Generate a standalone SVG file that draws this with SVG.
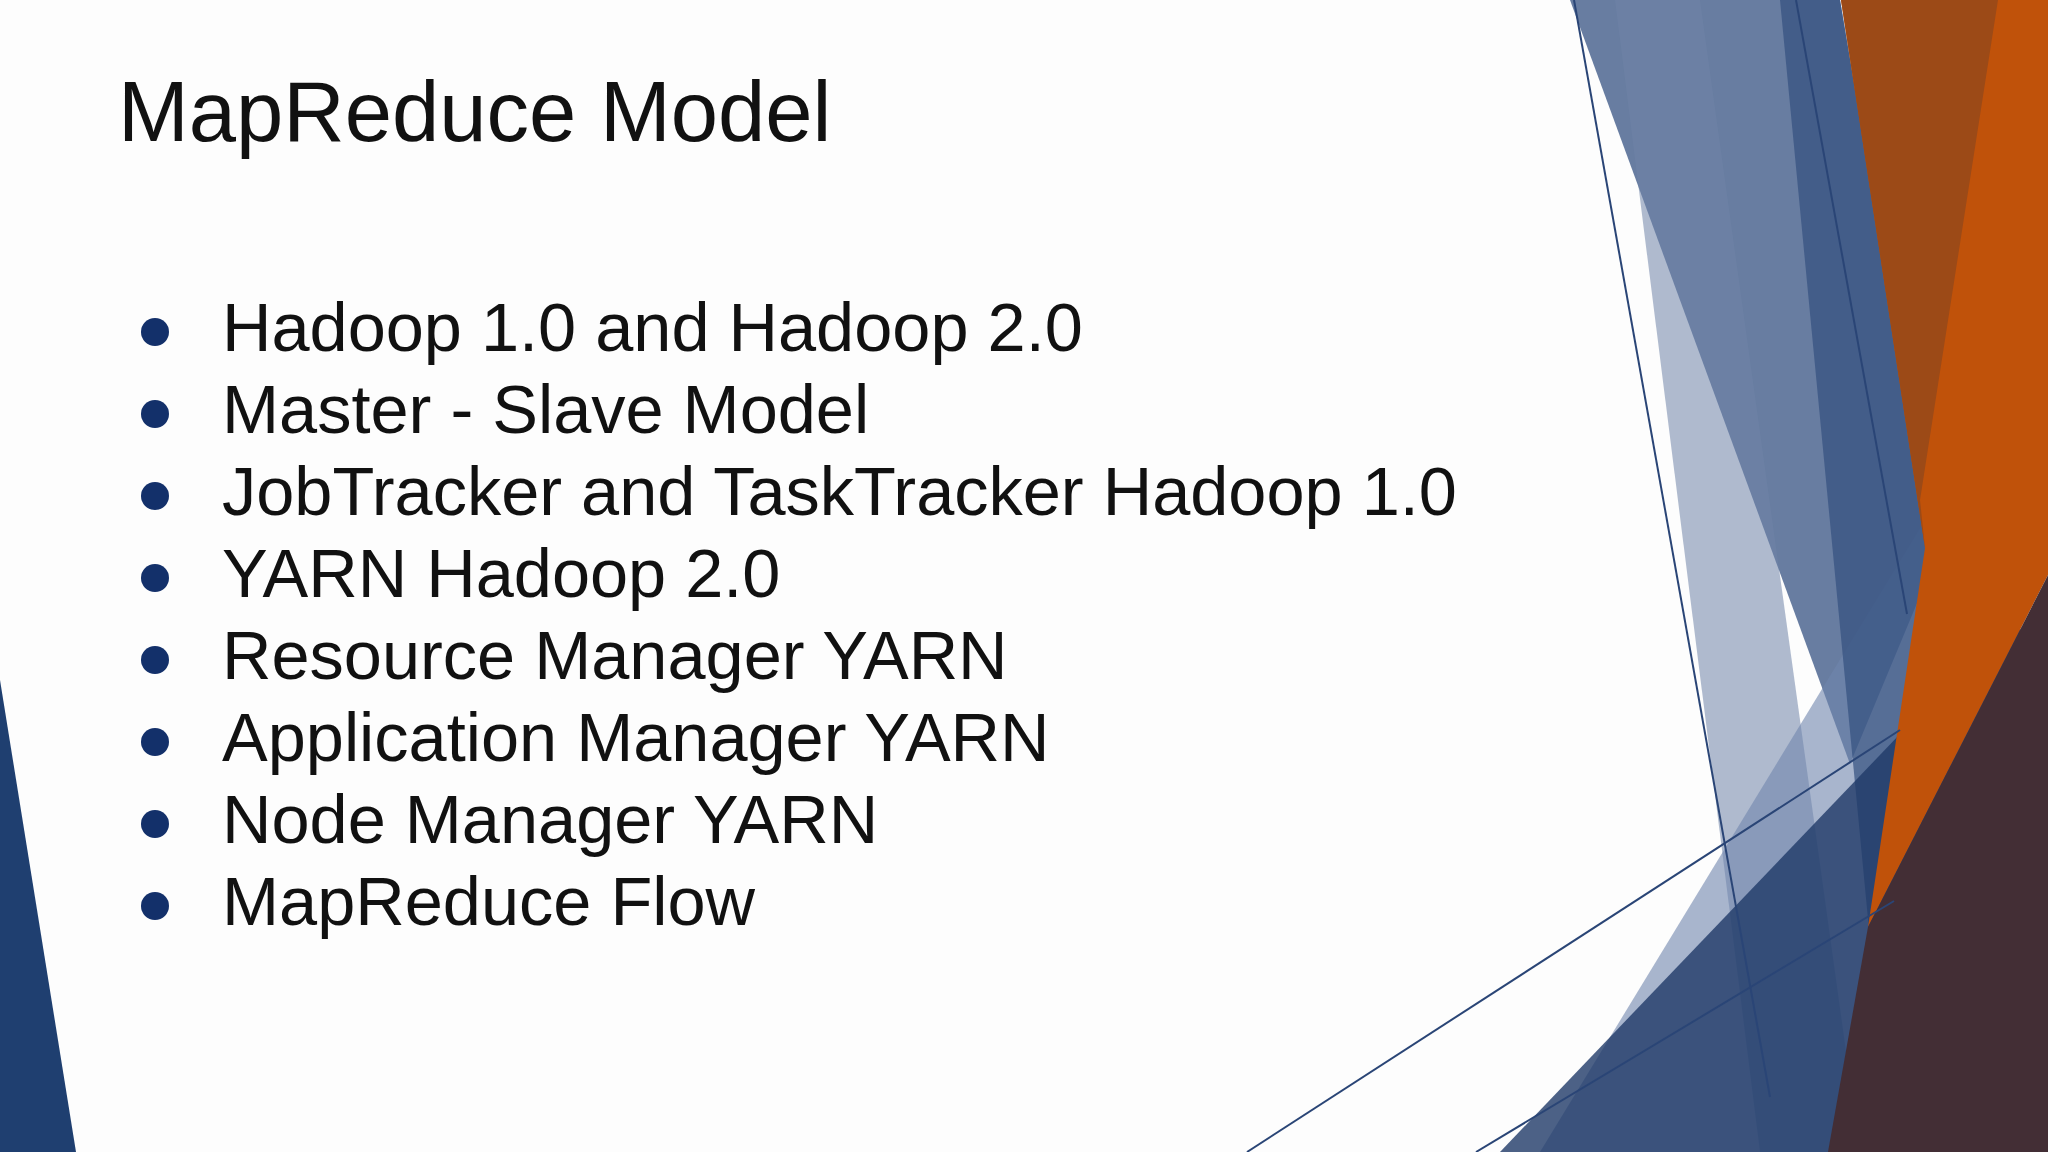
<svg xmlns="http://www.w3.org/2000/svg" width="2048" height="1152" viewBox="0 0 2048 1152">
<style>
.t{font-family:"Liberation Sans",Arial,sans-serif;fill:#111;}
.b{font-size:68.5px;}
.d{fill:#13306a;}
.ln{stroke:#2a4576;stroke-width:2;fill:none;}
</style>
<rect width="2048" height="1152" fill="#fdfdfd"/>
<g id="decor">
<polygon points="0,680 76,1152 0,1152" fill="#1f3f70"/>
<polygon points="1570,0 1840,0 1935,560 1850,764" fill="#4e6690" opacity="0.85"/>
<polygon points="1615,0 1700,0 1860,1152 1760,1152" fill="#6f84a8" opacity="0.55"/>
<polygon points="1540,1152 1925,520 1990,1152" fill="#6f86ad" opacity="0.6"/>
<polygon points="1780,0 1840,0 1935,560 1870,940" fill="#33507f" opacity="0.7"/>
<polygon points="1500,1152 1990,640 2048,620 2048,1152" fill="#1f3a68" opacity="0.8"/>
<polygon points="1841,0 2048,0 2048,575 1868,927 1925,548" fill="#c0520a"/>
<polygon points="1841,0 1998,0 1920,500 1925,548" fill="#9c4a17"/>
<polygon points="1828,1152 1868,927 2048,575 2048,1152" fill="#432e35"/>
<line class="ln" x1="1574" y1="0" x2="1770" y2="1097"/>
<line class="ln" x1="1796" y1="0" x2="1907" y2="614"/>
<line class="ln" x1="1247" y1="1152" x2="1900" y2="730"/>
<line class="ln" x1="1476" y1="1152" x2="1894" y2="901"/>
</g>
<text class="t" x="118" y="141" font-size="85">MapReduce Model</text>
<g id="bullets">
<circle class="d" cx="155" cy="332" r="14"/><text class="t b" x="222" y="351">Hadoop 1.0 and Hadoop 2.0</text>
<circle class="d" cx="155" cy="414" r="14"/><text class="t b" x="222" y="433">Master - Slave Model</text>
<circle class="d" cx="155" cy="496" r="14"/><text class="t b" x="222" y="515">JobTracker and TaskTracker Hadoop 1.0</text>
<circle class="d" cx="155" cy="578" r="14"/><text class="t b" x="222" y="597">YARN Hadoop 2.0</text>
<circle class="d" cx="155" cy="660" r="14"/><text class="t b" x="222" y="679">Resource Manager YARN</text>
<circle class="d" cx="155" cy="742" r="14"/><text class="t b" x="222" y="761">Application Manager YARN</text>
<circle class="d" cx="155" cy="824" r="14"/><text class="t b" x="222" y="843">Node Manager YARN</text>
<circle class="d" cx="155" cy="906" r="14"/><text class="t b" x="222" y="925">MapReduce Flow</text>
</g>
</svg>
